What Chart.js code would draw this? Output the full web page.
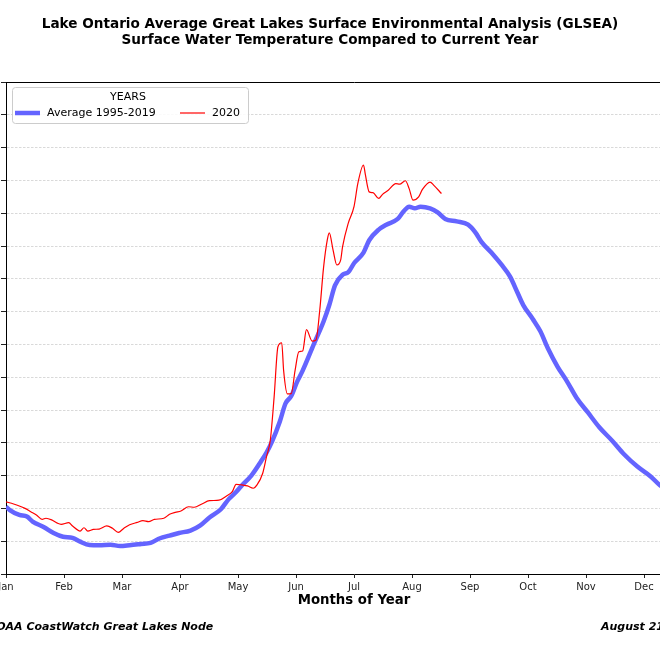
<!DOCTYPE html>
<html>
<head>
<meta charset="utf-8">
<script src="https://cdn.jsdelivr.net/npm/chart.js@4.4.1/dist/chart.umd.min.js"></script>
<style>
  html, body { margin: 0; padding: 0; background: #fff; overflow: hidden; width: 660px; height: 645px; }
  /* the reference is a crop of a wider figure, so the canvas hangs past both edges */
  #wrap { position: absolute; left: -60px; top: 0; width: 780px; height: 645px; }
</style>
</head>
<body>
<div id="wrap"><canvas id="chart" width="780" height="645"></canvas></div>
<script>
"use strict";

var months = ["Jan", "Feb", "Mar", "Apr", "May", "Jun", "Jul", "Aug", "Sep", "Oct", "Nov", "Dec"];
var daysInYear = 366;
var tempMin = 0;
var tempMax = 30;
var tempStep = 2;

// 1995-2019 average, day of year -> deg C
var avgDays = [0, 2, 7, 11, 14, 20, 25, 30, 35, 39, 44, 49, 55, 60, 65, 71, 76, 81, 86, 91,
  97, 102, 107, 113, 117, 121, 124, 129, 134, 137, 140, 144, 147, 150, 153, 156, 162, 167,
  170, 173, 177, 180, 183, 188, 191, 196, 200, 206, 209, 212, 215, 218, 223, 227, 231, 237,
  243, 247, 250, 256, 261, 265, 269, 272, 277, 281, 285, 290, 295, 300, 306, 312, 319, 325,
  332, 339, 344, 352, 366];
var avgTemps = [4.1, 3.9, 3.6, 3.5, 3.2, 2.85, 2.5, 2.27, 2.2, 1.97, 1.77, 1.75, 1.79, 1.7,
  1.75, 1.83, 1.9, 2.18, 2.34, 2.5, 2.65, 2.95, 3.45, 3.95, 4.55, 5.0, 5.4, 6.0, 6.85, 7.4,
  8.1, 9.3, 10.4, 10.85, 11.7, 12.4, 14.05, 15.4, 16.4, 17.6, 18.25, 18.4, 18.95, 19.6,
  20.35, 21.0, 21.3, 21.65, 22.1, 22.4, 22.3, 22.4, 22.3, 22.05, 21.65, 21.5, 21.3, 20.8,
  20.25, 19.5, 18.8, 18.15, 17.15, 16.4, 15.55, 14.8, 13.75, 12.65, 11.75, 10.75, 9.85,
  8.95, 8.1, 7.3, 6.55, 5.95, 5.4, 4.9, 4.2];

// 2020, day of year -> deg C
var days2020 = [0, 4, 7, 10, 13, 16, 19, 21, 24, 27, 29, 33, 35, 39, 41, 43, 46, 49, 53, 56,
  59, 62, 65, 69, 72, 75, 78, 83, 86, 89, 92, 96, 99, 103, 107, 112, 116, 119, 121, 124,
  127, 130, 132, 135, 137, 139, 141, 143, 145, 146, 148, 150, 152, 154, 156, 158, 161, 163,
  165, 167, 169, 170, 172, 174, 176, 177, 180, 183, 185, 188, 189, 191, 193, 196, 198, 201,
  205, 207, 210, 212, 214, 217, 219, 223, 225, 229];
var temps2020 = [4.4, 4.27, 4.15, 4.0, 3.8, 3.6, 3.33, 3.4, 3.3, 3.1, 3.03, 3.13, 2.93, 2.62,
  2.82, 2.62, 2.72, 2.74, 2.93, 2.79, 2.54, 2.79, 3.0, 3.15, 3.25, 3.19, 3.33, 3.4, 3.64,
  3.76, 3.84, 4.1, 4.07, 4.27, 4.47, 4.5, 4.76, 5.02, 5.47, 5.43, 5.37, 5.23, 5.43, 6.14,
  7.15, 8.17, 10.8, 13.86, 14.1, 12.4, 10.98, 11.0, 12.4, 13.55, 13.6, 14.9, 14.2, 14.27,
  16.1, 18.7, 20.4, 20.8, 19.75, 18.84, 19.15, 19.96, 21.4, 22.4, 23.8, 24.94, 24.33, 23.3,
  23.25, 22.9, 23.15, 23.4, 23.8, 23.77, 23.98, 23.5, 22.8, 23.0, 23.45, 23.9, 23.7, 23.2];

var titleLines = [
  "Lake Ontario Average Great Lakes Surface Environmental Analysis (GLSEA)",
  "Surface Water Temperature Compared to Current Year"
];
var sourceNote = "NOAA CoastWatch Great Lakes Node";
var dateNote = "August 21, 2020";

function points(xs, ys) {
  return xs.map(function (x, i) { return { x: x, y: ys[i] }; });
}

Chart.defaults.font.family = "'DejaVu Sans', sans-serif";
Chart.defaults.color = "#222";

// matplotlib-style legend box sitting in the top-left of the axes
var legendBox = {
  id: "legendBox",
  afterDatasetsDraw: function (chart) {
    var ctx = chart.ctx, area = chart.chartArea;
    var x = area.left + 6, y = area.top + 5, w = 236, h = 36;
    ctx.save();
    ctx.fillStyle = "rgba(255,255,255,0.85)";
    ctx.strokeStyle = "#cccccc";
    ctx.lineWidth = 1;
    ctx.beginPath();
    ctx.roundRect(x + 0.5, y + 0.5, w, h, 3);
    ctx.fill();
    ctx.stroke();
    ctx.font = "11px 'DejaVu Sans'";
    ctx.fillStyle = "#000";
    ctx.textBaseline = "middle";
    ctx.textAlign = "center";
    ctx.fillText("YEARS", x + 116, y + 10);
    ctx.textAlign = "left";
    var slots = [3, 168];
    chart.data.datasets.forEach(function (ds, i) {
      var sx = x + slots[i];
      ctx.strokeStyle = ds.borderColor;
      ctx.lineWidth = ds.borderWidth;
      ctx.beginPath();
      ctx.moveTo(sx, y + 26);
      ctx.lineTo(sx + 25, y + 26);
      ctx.stroke();
      ctx.fillText(ds.label, sx + 32, y + 26);
    });
    ctx.restore();
  }
};

// credit line and date under the figure
var footer = {
  id: "footer",
  afterDraw: function (chart) {
    var ctx = chart.ctx;
    ctx.save();
    ctx.font = "italic bold 11px 'DejaVu Sans'";
    ctx.fillStyle = "#000";
    ctx.textBaseline = "middle";
    ctx.textAlign = "left";
    ctx.fillText(sourceNote, 47, 627);
    ctx.fillText(dateNote, 661, 627);
    ctx.restore();
  }
};

new Chart(document.getElementById("chart"), {
  type: "line",
  data: {
    datasets: [{
      label: "Average 1995-2019",
      data: points(avgDays, avgTemps),
      borderColor: "#6464ff",
      borderWidth: 4.5,
      pointRadius: 0,
      cubicInterpolationMode: "monotone",
      order: 1
    }, {
      label: "2020",
      data: points(days2020, temps2020),
      borderColor: "#ff0000",
      borderWidth: 1.2,
      pointRadius: 0,
      cubicInterpolationMode: "monotone",
      order: 0
    }]
  },
  options: {
    responsive: false,
    animation: false,
    layout: { padding: { left: 0, right: 0, top: 0, bottom: 35 } },
    plugins: {
      legend: { display: false },
      tooltip: { enabled: false },
      title: {
        display: true,
        text: titleLines,
        color: "#000",
        font: { size: 13.6, weight: "bold", lineHeight: "16px" },
        padding: { top: 16, bottom: 34 }
      }
    },
    scales: {
      x: {
        type: "linear",
        position: "bottom",
        min: 0,
        max: daysInYear,
        afterBuildTicks: function (scale) {
          scale.ticks = months.map(function (m, i) { return { value: i * daysInYear / 12 }; });
        },
        afterFit: function (scale) { scale.height = 36; },
        ticks: {
          autoSkip: false,
          maxRotation: 0,
          padding: 3,
          color: "#222",
          font: { size: 10 },
          callback: function (v, i) { return months[i]; }
        },
        grid: { drawOnChartArea: false, drawTicks: true, tickLength: 4, tickColor: "#222", tickWidth: 1 },
        border: { display: true, color: "#000", width: 1 },
        title: {
          display: true,
          text: "Months of Year",
          color: "#000",
          font: { size: 13.3, weight: "bold", lineHeight: "16px" },
          padding: { top: 0, bottom: 1 }
        }
      },
      xTop: {
        type: "linear",
        position: "top",
        min: 0,
        max: 1,
        afterFit: function (scale) { scale.height = 0; },
        ticks: { display: false },
        grid: { display: false },
        border: { display: true, color: "#000", width: 1 }
      },
      y: {
        type: "linear",
        position: "left",
        min: tempMin,
        max: tempMax,
        afterFit: function (scale) { scale.width = 66; },
        ticks: { display: false, stepSize: tempStep },
        grid: { color: "#cfcfcf", lineWidth: 0.8, drawTicks: true, tickLength: 5, tickColor: "#222", tickWidth: 1 },
        border: { display: true, color: "#000", width: 1, dash: [2.5, 1.5] }
      },
      yRight: {
        type: "linear",
        position: "right",
        min: 0,
        max: 1,
        afterFit: function (scale) { scale.width = 18; },
        ticks: { display: false },
        grid: { display: false },
        border: { display: true, color: "#000", width: 1 }
      }
    }
  },
  plugins: [legendBox, footer]
});
</script>
</body>
</html>
